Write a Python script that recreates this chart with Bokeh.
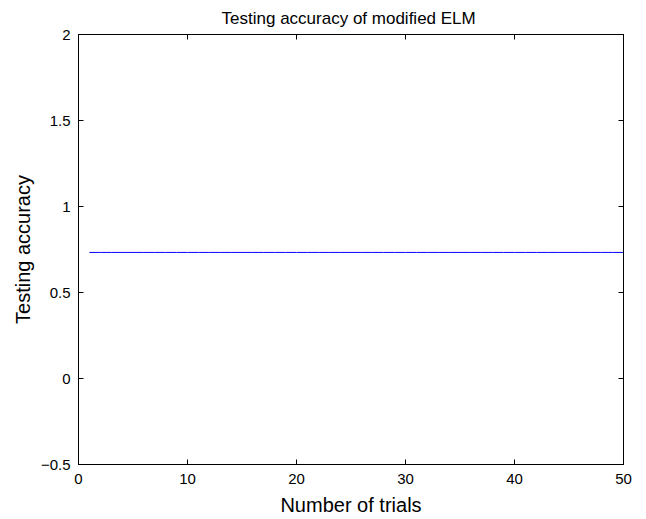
from bokeh.plotting import figure
from bokeh.models import LinearAxis, FixedTicker, Range1d, Title
from bokeh.embed import file_html
from bokeh.resources import INLINE

# data
trials = list(range(1, 51))
accuracy = [0.733] * 50
x_ticks = [0, 10, 20, 30, 40, 50]
y_ticks = [-0.5, 0, 0.5, 1, 1.5, 2]
y_tick_labels = {-0.5: "\u22120.5", 0: "0", 0.5: "0.5", 1: "1", 1.5: "1.5", 2: "2"}

FONT = "Liberation Sans"

p = figure(width=646, height=519, output_backend="svg", toolbar_location=None,
           x_range=Range1d(0, 50), y_range=Range1d(-0.5, 2),
           min_border_left=78, min_border_right=23, min_border_top=34, min_border_bottom=55,
           x_axis_location=None, y_axis_location=None)
p.title = None
p.grid.visible = False
p.outline_line_color = "black"
p.outline_line_width = 1
p.background_fill_color = "white"
p.border_fill_color = "white"

p.line(trials, accuracy, line_color="#0000ff", line_width=1)

def style(ax, labels=True):
    ax.axis_line_color = "black"
    ax.axis_line_width = 1
    ax.major_tick_in = 5
    ax.major_tick_out = 0
    ax.minor_tick_line_color = None
    ax.major_tick_line_color = "black"
    ax.major_label_text_font = FONT
    ax.major_label_text_font_size = "15px"
    ax.major_label_text_color = "black"
    ax.axis_label_text_font = FONT
    ax.axis_label_text_font_size = "20px"
    ax.axis_label_text_font_style = "normal"
    ax.axis_label_text_color = "black"
    if not labels:
        ax.major_label_text_font_size = "0px"
        ax.major_label_text_color = None

xb = LinearAxis(ticker=FixedTicker(ticks=x_ticks), axis_label="Number of trials")
style(xb)
xb.major_label_standoff = 9
xb.axis_label_standoff = 7
p.add_layout(xb, "below")

yl = LinearAxis(ticker=FixedTicker(ticks=y_ticks), axis_label="Testing accuracy",
                major_label_overrides=y_tick_labels)
style(yl)
yl.major_label_standoff = 8
yl.axis_label_standoff = 4
p.add_layout(yl, "left")

xt = LinearAxis(ticker=FixedTicker(ticks=x_ticks))
style(xt, labels=False)
p.add_layout(xt, "above")

yr = LinearAxis(ticker=FixedTicker(ticks=y_ticks))
style(yr, labels=False)
p.add_layout(yr, "right")

t = Title(text="Testing accuracy of  modified ELM", align="center",
          text_font=FONT, text_font_size="17px", text_font_style="normal",
          text_color="black", standoff=13)
p.add_layout(t, "above")

open("out.html", "w").write(file_html(p, INLINE))
